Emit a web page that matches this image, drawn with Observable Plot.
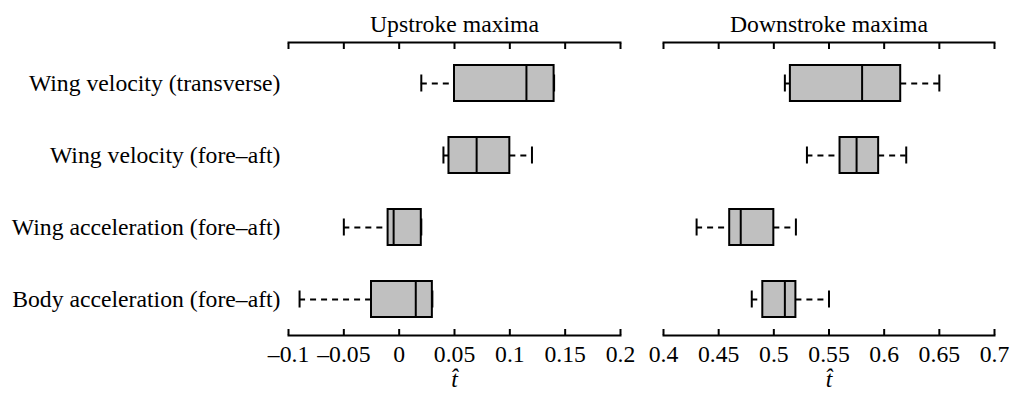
<!DOCTYPE html>
<html>
<head>
<meta charset="utf-8">
<script src="https://cdn.jsdelivr.net/npm/d3@7"></script>
<script src="https://cdn.jsdelivr.net/npm/@observablehq/plot@0.6"></script>
<style>
  html, body { margin: 0; padding: 0; background: #fff; }
  #chart { display: flex; width: 1012px; height: 394px; overflow: hidden; }
  #chart svg { display: block; }
</style>
</head>
<body>
<div id="chart"></div>
<script>
// ---- data ----
const categories = [
  "Wing velocity (transverse)",
  "Wing velocity (fore–aft)",
  "Wing acceleration (fore–aft)",
  "Body acceleration (fore–aft)"
];
// Upstroke maxima
const upMin = [0.02, 0.04, -0.05, -0.09];
const upQ1  = [0.05, 0.045, -0.01, -0.025];
const upMed = [0.115, 0.07, -0.005, 0.015];
const upQ3  = [0.14, 0.10, 0.02, 0.03];
const upMax = [0.14, 0.12, 0.02, 0.03];
// Downstroke maxima
const downMin = [0.51, 0.53, 0.43, 0.48];
const downQ1  = [0.515, 0.56, 0.46, 0.49];
const downMed = [0.58, 0.575, 0.47, 0.51];
const downQ3  = [0.615, 0.595, 0.50, 0.52];
const downMax = [0.65, 0.62, 0.52, 0.55];

const upTicks = [-0.1, -0.05, 0, 0.05, 0.1, 0.15, 0.2];
const upTickLabels = ["–0.1", "–0.05", "0", "0.05", "0.1", "0.15", "0.2"];
const downTicks = [0.4, 0.45, 0.5, 0.55, 0.6, 0.65, 0.7];
const downTickLabels = ["0.4", "0.45", "0.5", "0.55", "0.6", "0.65", "0.7"];

const upTitle = "Upstroke maxima";
const downTitle = "Downstroke maxima";
const xLabel = "t\u0302";

// ---- build ----
const FS = 23.7;
function rows(mins, q1s, meds, q3s, maxs) {
  return categories.map((c, i) => ({cat: c, min: mins[i], q1: q1s[i], med: meds[i], q3: q3s[i], max: maxs[i]}));
}

function panel({data, ticks, labels, title, width, marginLeft, marginRight, showY}) {
  const fmt = new Map(ticks.map((t, i) => [t, labels[i]]));
  return Plot.plot({
    width,
    height: 394,
    marginTop: 42,
    marginBottom: 59,
    marginLeft,
    marginRight,
    style: {fontFamily: "'Liberation Serif', 'Times New Roman', serif", fontSize: FS + "px", color: "#000", background: "#fff"},
    x: {domain: [ticks[0], ticks[ticks.length - 1]], axis: null},
    y: {domain: categories, padding: 0, insetTop: 4, axis: null},
    marks: [
      // whiskers
      Plot.ruleY(data, {y: "cat", x1: "min", x2: "q1", stroke: "#000", strokeWidth: 2, strokeDasharray: "6,5"}),
      Plot.ruleY(data, {y: "cat", x1: "q3", x2: "max", stroke: "#000", strokeWidth: 2, strokeDasharray: "6,5"}),
      // boxes
      Plot.barX(data, {y: "cat", x1: "q1", x2: "q3", fill: "#c0c0c0", stroke: "#000", strokeWidth: 2, insetTop: 18, insetBottom: 18}),
      // medians
      Plot.tickX(data, {y: "cat", x: "med", stroke: "#000", strokeWidth: 2, insetTop: 18, insetBottom: 18}),
      // caps
      Plot.tickX(data, {y: "cat", x: "min", stroke: "#000", strokeWidth: 2, insetTop: 27.5, insetBottom: 27.5}),
      Plot.tickX(data, {y: "cat", x: "max", stroke: "#000", strokeWidth: 2, insetTop: 27.5, insetBottom: 27.5}),
      // axes
      Plot.frame({anchor: "top", stroke: "#000", strokeWidth: 2}),
      Plot.frame({anchor: "bottom", stroke: "#000", strokeWidth: 2}),
      Plot.axisX({anchor: "top", ticks, tickSize: -6, strokeWidth: 2, tickFormat: () => "", label: null}),
      Plot.axisX({anchor: "bottom", ticks, tickSize: -6, tickPadding: 16, strokeWidth: 2, tickFormat: d => fmt.get(d), label: null, fontSize: FS}),
      showY ? Plot.axisY({tickSize: 0, tickPadding: 8, label: null, fontSize: FS}) : null,
      Plot.text([title], {frameAnchor: "top", dy: -11, lineAnchor: "bottom", fontSize: FS}),
      Plot.text([xLabel], {frameAnchor: "bottom", dy: 44, lineAnchor: "middle", fontSize: FS, fontStyle: "italic"})
    ]
  });
}

const chart = document.getElementById("chart");
chart.append(panel({
  data: rows(upMin, upQ1, upMed, upQ3, upMax),
  ticks: upTicks, labels: upTickLabels, title: upTitle,
  width: 640, marginLeft: 288, marginRight: 20, showY: true
}));
chart.append(panel({
  data: rows(downMin, downQ1, downMed, downQ3, downMax),
  ticks: downTicks, labels: downTickLabels, title: downTitle,
  width: 372, marginLeft: 23, marginRight: 18, showY: false
}));
</script>
</body>
</html>
